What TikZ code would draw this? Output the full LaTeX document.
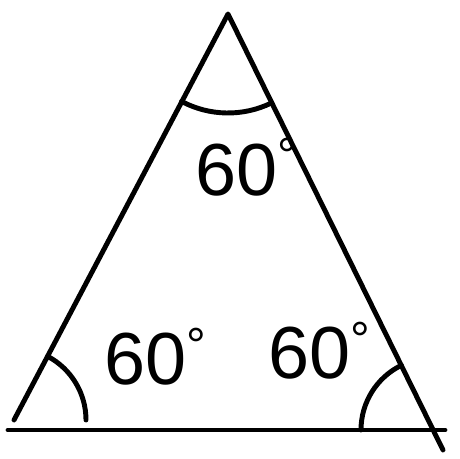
\documentclass[tikz,border=0pt]{standalone}
\usepackage{fontspec}
\setmainfont{Liberation Sans}
\usetikzlibrary{calc}

\newcommand{\degsmall}{\raisebox{13pt}{\fontsize{28}{28}\selectfont°}}

\begin{document}
\begin{tikzpicture}[line width=2.8pt, line cap=round, line join=round,
    anglab/.style={inner sep=0pt, font=\fontsize{42}{42}\selectfont}]
  \useasboundingbox (0,0) rectangle (9.2,9.18);
  % vertices
  \coordinate (top)   at (4.56,8.90);
  \coordinate (left)  at (0.28,0.78);
  \coordinate (foot)  at (8.86,0.18);
  \coordinate (bl)    at (0.16,0.58);
  \coordinate (br)    at (8.90,0.58);
  \coordinate (right) at (8.66,0.58);
  % sides
  \draw (left) -- (top) -- (foot);
  \draw (bl) -- (br);
  % angle marks
  \draw ($(top)+(242:1.98)$) arc[start angle=242, end angle=296, radius=1.98];
  \draw ($(left)+(62:1.44)$) arc[start angle=62, end angle=0, radius=1.44];
  \draw ($(right)+(116:1.44)$) arc[start angle=116, end angle=180, radius=1.44];
  % labels
  \node[anglab, anchor=base] (atop)   at (4.92,5.27) {60\degsmall};
  \node[anglab, anchor=base] (aleft)  at (3.10,1.48) {60\degsmall};
  \node[anglab, anchor=base] (aright) at (6.38,1.60) {60\degsmall};
\end{tikzpicture}
\end{document}
